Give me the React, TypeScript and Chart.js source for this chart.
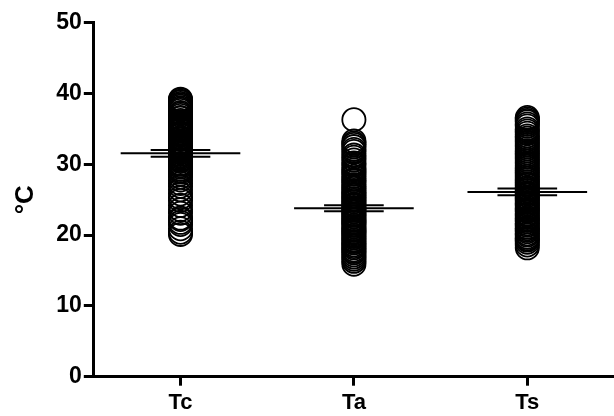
import React, { useEffect, useRef } from "react";
import { Chart, registerables } from "chart.js";

Chart.register(...registerables);

// Groups on the x axis
const categories = ["Tc", "Ta", "Ts"];

// Individual temperature readings (°C) per group
const tcValues = [
  20.1, 20.4, 20.9, 21.5, 21.8, 22.2, 22.4, 23.1, 23.6, 24.2, 24.9, 25.3, 25.8,
  26.4, 26.9, 27.3, 27.8, 28.2, 28.6, 28.9, 29.1, 29.3, 29.6, 29.8, 30.0, 30.1,
  30.4, 30.6, 30.7, 30.9, 31.1, 31.2, 31.4, 31.6, 31.7, 31.9, 32.0, 32.2, 32.4,
  32.5, 32.7, 32.9, 33.0, 33.2, 33.5, 33.6, 33.8, 34.1, 34.3, 34.4, 34.7, 34.9,
  35.1, 35.3, 35.6, 35.8, 36.0, 36.2, 36.5, 36.6, 36.9, 37.1, 37.3, 37.6, 37.8,
  38.0, 38.2, 38.4, 38.6, 38.8, 38.9, 39.1, 39.2,
];
const taValues = [
  15.9, 16.3, 16.6, 16.9, 17.2, 17.5, 17.7, 17.9, 18.2, 18.4, 18.6, 18.9, 19.1,
  19.3, 19.6, 19.8, 20.0, 20.3, 20.5, 20.7, 20.9, 21.2, 21.4, 21.7, 21.9, 22.1,
  22.3, 22.6, 22.8, 23.0, 23.3, 23.5, 23.7, 23.9, 24.2, 24.4, 24.7, 24.9, 25.1,
  25.4, 25.6, 25.8, 26.1, 26.3, 26.6, 26.8, 27.1, 27.4, 27.7, 27.9, 28.3, 28.6,
  28.9, 29.2, 29.5, 29.9, 30.2, 30.6, 31.0, 31.3, 31.8, 32.1, 32.5, 32.8, 33.0,
  33.3, 36.3,
];
const tsValues = [
  18.2, 18.6, 19.0, 19.3, 19.5, 19.7, 20.0, 20.2, 20.5, 20.7, 20.9, 21.1, 21.4,
  21.6, 21.9, 22.1, 22.3, 22.5, 22.8, 23.0, 23.3, 23.5, 23.7, 23.9, 24.2, 24.4,
  24.6, 24.9, 25.1, 25.3, 25.6, 25.8, 26.0, 26.3, 26.5, 26.7, 27.0, 27.2, 27.5,
  27.8, 28.0, 28.3, 28.6, 28.9, 29.2, 29.5, 29.8, 30.1, 30.4, 30.7, 31.0, 31.3,
  31.6, 31.9, 32.2, 32.5, 32.8, 33.1, 33.4, 33.7, 34.0, 34.4, 34.7, 35.0, 35.4,
  35.7, 36.0, 36.2, 36.4, 36.6,
];

// Group mean and standard error of the mean
const means = [31.55, 23.8, 26.1];
const sems = [0.47, 0.42, 0.47];

const yTicks = [0, 10, 20, 30, 40, 50];

// Half widths of the mean and SEM bars, in category units
const MEAN_HALF = 0.345;
const SEM_HALF = 0.172;

const FONT = "'Liberation Sans', Arial, sans-serif";

export default function App() {
  const canvasRef = useRef<HTMLCanvasElement | null>(null);

  useEffect(() => {
    document.body.style.margin = "0";
    const canvas = canvasRef.current;
    if (!canvas) return;

    const groups = [tcValues, taValues, tsValues];

    const pointSets = groups.map((vals, i) => ({
      type: "scatter" as const,
      label: categories[i],
      data: vals.map((v) => ({ x: i, y: v })),
      pointStyle: "circle",
      pointRadius: 11.6,
      pointHoverRadius: 11.6,
      pointBorderWidth: 1.8,
      borderColor: "#000",
      backgroundColor: "rgba(0,0,0,0)",
      showLine: false,
      order: 2,
    }));

    const bar = (i: number, y: number, half: number, width: number) => ({
      type: "scatter" as const,
      label: "",
      data: [
        { x: i - half, y },
        { x: i + half, y },
      ],
      showLine: true,
      borderColor: "#000",
      borderWidth: width,
      pointRadius: 0,
      order: 1,
    });

    const lineSets: any[] = [];
    means.forEach((m, i) => {
      lineSets.push(bar(i, m, MEAN_HALF, 2));
      lineSets.push(bar(i, m + sems[i], SEM_HALF, 2));
      lineSets.push(bar(i, m - sems[i], SEM_HALF, 2));
    });

    const chart = new Chart(canvas, {
      type: "scatter",
      data: { datasets: [...pointSets, ...lineSets] as any },
      options: {
        responsive: false,
        animation: false,
        layout: {
          autoPadding: false,
          padding: { top: 22.7, right: 0, bottom: 0, left: 0 },
        },
        plugins: {
          legend: { display: false },
          tooltip: { enabled: false },
        },
        scales: {
          x: {
            type: "linear",
            min: -0.5,
            max: 2.5,
            afterBuildTicks: (scale: any) => {
              scale.ticks = categories.map((_, i) => ({ value: i }));
            },
            afterFit: (scale: any) => {
              scale.height = 39.3;
              scale.paddingLeft = 0;
              scale.paddingRight = 0;
            },
            ticks: {
              autoSkip: false,
              maxRotation: 0,
              padding: 4,
              color: "#000",
              font: { family: FONT, size: 22, weight: "bold" },
              callback: (v: any) => categories[Number(v)] ?? "",
            },
            grid: {
              display: true,
              drawOnChartArea: false,
              drawTicks: true,
              tickLength: 9,
              tickWidth: 3,
              tickColor: "#000",
            },
            border: { display: true, width: 3, color: "#000" },
          },
          y: {
            type: "linear",
            min: 0,
            max: 50,
            afterBuildTicks: (scale: any) => {
              scale.ticks = yTicks.map((v) => ({ value: v }));
            },
            afterFit: (scale: any) => {
              scale.width = 93.8;
            },
            ticks: {
              padding: 2,
              color: "#000",
              font: { family: FONT, size: 23, weight: "bold" },
            },
            grid: {
              display: true,
              drawOnChartArea: false,
              drawTicks: true,
              tickLength: 10,
              tickWidth: 3,
              tickColor: "#000",
            },
            border: { display: true, width: 3, color: "#000" },
            title: {
              display: true,
              text: "°C",
              color: "#000",
              padding: { top: 10, bottom: 0 },
              font: { family: FONT, size: 26, weight: "bold" },
            },
          },
        },
      },
    });

    return () => chart.destroy();
  }, []);

  return (
    <div style={{ position: "fixed", left: 0, top: 0, width: 614, height: 416, background: "#fff" }}>
      <canvas ref={canvasRef} width={614} height={416} />
    </div>
  );
}
